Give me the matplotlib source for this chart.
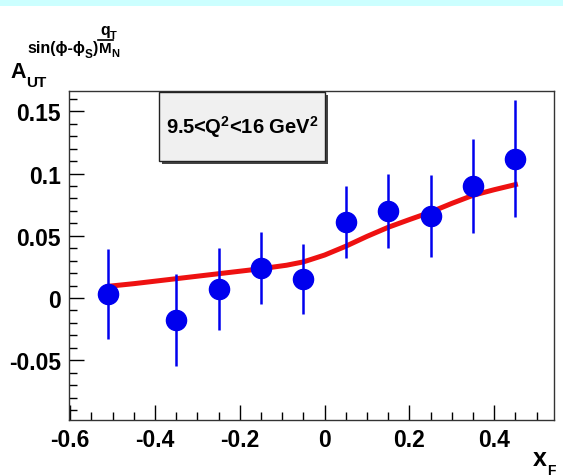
import numpy as np
import matplotlib
matplotlib.use('Agg')
import matplotlib.pyplot as plt
from matplotlib.patches import Rectangle
from matplotlib.ticker import MultipleLocator

plt.rcParams['font.family'] = ['Liberation Sans', 'DejaVu Sans']
plt.rcParams['font.weight'] = 'bold'
plt.rcParams['mathtext.fontset'] = 'custom'
plt.rcParams['mathtext.rm'] = 'Liberation Sans:bold'
plt.rcParams['mathtext.it'] = 'Liberation Sans:bold'
plt.rcParams['mathtext.bf'] = 'Liberation Sans:bold'

# data points
xf = [-0.51, -0.35, -0.25, -0.15, -0.05, 0.05, 0.15, 0.25, 0.35, 0.45]
asym = [0.003, -0.018, 0.007, 0.024, 0.015, 0.061, 0.070, 0.066, 0.090, 0.112]
err = [0.036, 0.037, 0.033, 0.029, 0.028, 0.029, 0.030, 0.033, 0.038, 0.047]

# model curve
curve_x = [-0.51, -0.45, -0.35, -0.25, -0.15, -0.09, -0.05, 0.0, 0.05, 0.10,
           0.15, 0.20, 0.25, 0.30, 0.35, 0.40, 0.45]
curve_y = [0.0094, 0.0115, 0.0155, 0.0195, 0.0235, 0.0263, 0.029, 0.0345, 0.0416, 0.0495,
           0.0568, 0.063, 0.0690, 0.0760, 0.0825, 0.0870, 0.0911]

W, H = 563, 477
fig = plt.figure(figsize=(W / 100, H / 100), dpi=100)
fig.patch.set_facecolor('white')
# cyan band at top
fig.patches.append(Rectangle((0, 1 - 7 / H), 1, 7 / H, transform=fig.transFigure,
                             facecolor='#ccffff', edgecolor='none'))

ax = fig.add_axes([69 / W, 1 - 420.7 / H, (554 - 69) / W, (420.7 - 92) / H])
ax.plot(curve_x, curve_y, color='#ee1111', lw=3.6, zorder=3)
ax.errorbar(xf, asym, yerr=err, fmt='o', color='#0000ee', ms=14.5, elinewidth=1.8,
            capsize=0, zorder=4)

ax.set_xlim(-0.603, 0.541)
ax.set_ylim(-0.0978, 0.1663)
ax.xaxis.set_minor_locator(MultipleLocator(0.05))
ax.yaxis.set_minor_locator(MultipleLocator(0.01))
ax.tick_params(which='major', direction='in', length=11, width=1, labelsize=16.5, pad=6)
ax.tick_params(which='minor', direction='in', length=5.5, width=1)
ax.set_xticks([-0.6, -0.4, -0.2, 0, 0.2, 0.4])
ax.set_xticklabels(['-0.6', '-0.4', '-0.2', '0', '0.2', '0.4'])
ax.set_yticks([-0.05, 0, 0.05, 0.1, 0.15])
ax.set_yticklabels(['-0.05', '0', '0.05', '0.1', '0.15'])
for s in ax.spines.values():
    s.set_color('#333333')
    s.set_linewidth(1)

# label box with shadow
bx0, by0, bw, bh = 159 / W, 1 - 162 / H, 166 / W, 69 / H
fig.patches.append(Rectangle((bx0 + 2.5 / W, by0 - 2.5 / H), bw, bh, transform=fig.transFigure,
                             facecolor='#444444', edgecolor='none', zorder=5))
fig.patches.append(Rectangle((bx0, by0), bw, bh, transform=fig.transFigure,
                             facecolor='#f0f0f0', edgecolor='#222222', lw=1, zorder=6))
fig.text(bx0 + bw / 2, by0 + bh / 2, r'9.5<Q$^{2}$<16 GeV$^{2}$', ha='center', va='center',
         fontsize=14.5, fontweight='bold', zorder=7)

renderer = fig.canvas.get_renderer()


def put_seq(parts, x0):
    # parts: (text, fontsize, baseline in px from top); placed one after the other
    x = x0
    for txt, fs, yb in parts:
        t = fig.text(x / W, 1 - yb / H, txt, fontsize=fs, fontweight='bold', va='baseline')
        x = t.get_window_extent(renderer).x1
    return x


# y-axis label
put_seq([('A', 15.5, 77.5), ('UT', 11, 87)], 10.5)
xe = put_seq([('sin(\u03d5-\u03d5', 11.5, 53), ('S', 8.5, 58), (')', 11.5, 53)], 27)
put_seq([('q', 11.5, 35.5), ('T', 8, 39)], xe + 2)
fig.add_artist(plt.Line2D([xe / W, (xe + 15) / W], [1 - 40.7 / H, 1 - 40.7 / H],
                          transform=fig.transFigure, color='black', lw=1.2))
put_seq([('M', 11, 53), ('N', 8, 57)], xe + 1)

# x-axis label
put_seq([('x', 18, 466), ('F', 10, 475.5)], 533)

fig.savefig('out.png', dpi=100)
